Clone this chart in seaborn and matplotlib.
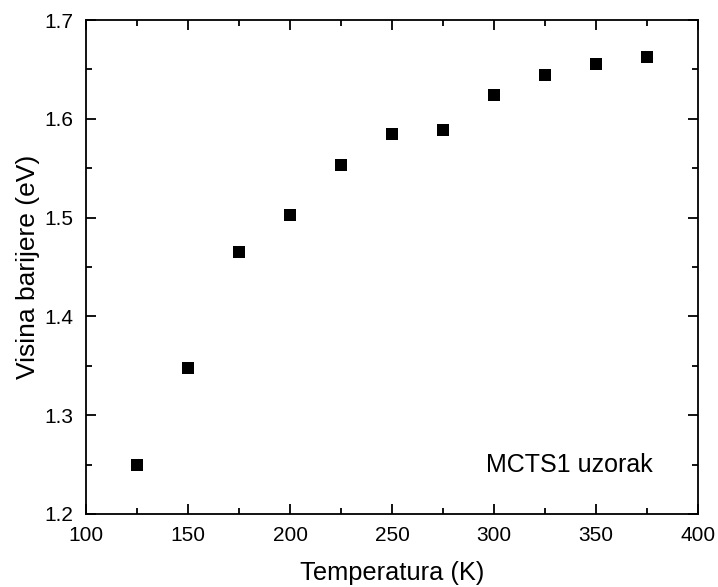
import numpy as np
import pandas as pd
import matplotlib
matplotlib.use("Agg")
import matplotlib.pyplot as plt
import seaborn as sns
from matplotlib.ticker import MultipleLocator

# DATA
temperature = [125, 150, 175, 200, 225, 250, 275, 300, 325, 350, 375]
barrier = [1.250, 1.348, 1.465, 1.503, 1.553, 1.585, 1.589, 1.624, 1.644, 1.655, 1.663]
x_ticks = [100, 150, 200, 250, 300, 350, 400]
y_ticks = [1.2, 1.3, 1.4, 1.5, 1.6, 1.7]

df = pd.DataFrame({"T": temperature, "phi": barrier})

sns.set_style("ticks")
plt.rcParams["font.family"] = ["Liberation Sans", "DejaVu Sans"]
plt.rcParams["text.color"] = "black"
plt.rcParams["axes.labelcolor"] = "black"
plt.rcParams["xtick.color"] = "black"
plt.rcParams["ytick.color"] = "black"

fig = plt.figure(figsize=(7.18, 5.87), dpi=100)
ax = fig.add_axes([0.1198, 0.1244, 0.8523, 0.8415])

sns.scatterplot(data=df, x="T", y="phi", marker="s", s=75, color="black",
                edgecolor="black", linewidth=0, ax=ax)

ax.set_xlim(100, 400)
ax.set_ylim(1.2, 1.7)
ax.set_xticks(x_ticks)
ax.set_yticks(y_ticks)
ax.set_xticklabels([str(t) for t in x_ticks])
ax.set_yticklabels([f"{t:.1f}" for t in y_ticks])
ax.xaxis.set_minor_locator(MultipleLocator(25))
ax.yaxis.set_minor_locator(MultipleLocator(0.05))
ax.tick_params(which="both", direction="in", top=True, right=True, labelsize=15, width=1.3)
ax.tick_params(which="major", length=7)
ax.tick_params(which="minor", length=4)
ax.tick_params(axis="x", pad=9)
ax.tick_params(axis="y", pad=9)
for s in ax.spines.values():
    s.set_linewidth(1.3)
    s.set_color("black")
    s.set_visible(True)

ax.set_xlabel("Temperatura (K)", fontsize=18.3, labelpad=11)
ax.set_ylabel("Visina barijere (eV)", fontsize=19, labelpad=3)
ax.text(337, 1.25, "MCTS1 uzorak", fontsize=18, ha="center", va="center")

fig.savefig("out.png", dpi=100)
